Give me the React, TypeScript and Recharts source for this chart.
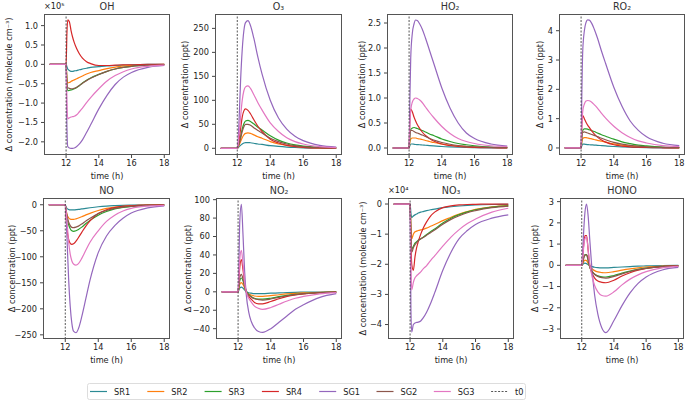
import React from "react";
import { LineChart, Line, XAxis, YAxis, ReferenceLine } from "recharts";

// time grid (h) shared by every panel
const T = [11, 12, 12.05, 12.1, 12.2, 12.3, 12.4, 12.5, 12.65, 12.8, 13, 13.25, 13.5, 14, 14.5, 15, 15.5, 16, 17, 18];

const SERIES = ["SR1", "SR2", "SR3", "SR4", "SG1", "SG2", "SG3"];
const COLORS = ["#2b8a94", "#ff7f0e", "#2ca02c", "#d62728", "#9467bd", "#8c564b", "#e377c2"];

// OH, x1e5 molecule cm-3
const OH = [
  [0, 0, -0.06, -0.12, -0.16, -0.18, -0.18, -0.17, -0.16, -0.14, -0.12, -0.1, -0.08, -0.06, -0.04, -0.03, -0.02, -0.01, 0, 0],
  [0, 0, -0.35, -0.48, -0.47, -0.44, -0.42, -0.4, -0.37, -0.34, -0.3, -0.25, -0.21, -0.16, -0.11, -0.07, -0.04, -0.03, -0.01, 0],
  [0, 0, -0.5, -0.68, -0.67, -0.66, -0.65, -0.63, -0.6, -0.55, -0.48, -0.41, -0.35, -0.26, -0.18, -0.12, -0.08, -0.05, -0.02, -0.01],
  [0, 0, 0.8, 1.15, 1.1, 0.88, 0.7, 0.56, 0.4, 0.28, 0.16, 0.07, 0.02, -0.03, -0.03, -0.02, -0.01, -0.01, 0, 0],
  [0, 0, -1.6, -2.12, -2.16, -2.17, -2.17, -2.16, -2.12, -2.06, -1.95, -1.76, -1.56, -1.15, -0.8, -0.52, -0.33, -0.21, -0.08, -0.03],
  [0, 0, -0.45, -0.6, -0.62, -0.63, -0.63, -0.62, -0.59, -0.55, -0.49, -0.42, -0.36, -0.26, -0.18, -0.12, -0.08, -0.05, -0.02, -0.01],
  [0, 0, -1.0, -1.4, -1.38, -1.36, -1.35, -1.34, -1.3, -1.23, -1.13, -0.99, -0.86, -0.63, -0.43, -0.29, -0.19, -0.12, -0.05, -0.02],
];

// O3, ppt
const O3 = [
  [0, 0, 1, 3, 6, 9, 11, 12, 12, 11.5, 10.5, 9, 8, 5.5, 3.8, 2.5, 1.6, 1, 0.4, 0.2],
  [0, 0, 2, 6, 14, 22, 28, 31, 32, 31, 28, 24, 21, 14, 9, 6, 3.8, 2.5, 1, 0.5],
  [0, 0, 3, 9, 24, 40, 51, 57, 58, 56, 51, 44, 38, 26, 17, 11, 7, 4.5, 2, 1],
  [0, 0, 5, 15, 40, 65, 78, 82, 79, 72, 60, 46, 35, 19, 11, 6, 3.5, 2, 0.8, 0.3],
  [0, 0, 15, 50, 140, 205, 245, 262, 266, 256, 230, 190, 155, 100, 63, 40, 25, 16, 6, 2.5],
  [0, 0, 3, 8, 20, 35, 45, 50, 50, 48, 43, 37, 32, 21, 14, 9, 5.5, 3.5, 1.5, 0.6],
  [0, 0, 7, 25, 65, 100, 120, 128, 130, 125, 112, 95, 80, 53, 35, 22, 14, 9, 3.5, 1.5],
];

// HO2, ppt
const HO2 = [
  [0, 0, 0.05, 0.08, 0.08, 0.075, 0.07, 0.068, 0.065, 0.06, 0.055, 0.048, 0.042, 0.03, 0.022, 0.016, 0.011, 0.008, 0.004, 0.002],
  [0, 0, 0.12, 0.18, 0.2, 0.2, 0.2, 0.19, 0.18, 0.17, 0.15, 0.13, 0.11, 0.08, 0.055, 0.04, 0.028, 0.02, 0.01, 0.005],
  [0, 0, 0.25, 0.37, 0.4, 0.41, 0.4, 0.39, 0.37, 0.35, 0.32, 0.28, 0.25, 0.18, 0.13, 0.09, 0.065, 0.045, 0.02, 0.01],
  [0, 0, 0.6, 0.78, 0.72, 0.62, 0.54, 0.47, 0.39, 0.32, 0.25, 0.19, 0.14, 0.08, 0.05, 0.03, 0.02, 0.012, 0.005, 0.002],
  [0, 0, 1.0, 1.8, 2.3, 2.48, 2.56, 2.55, 2.48, 2.38, 2.2, 1.95, 1.7, 1.2, 0.8, 0.5, 0.3, 0.19, 0.08, 0.04],
  [0, 0, 0.25, 0.35, 0.35, 0.33, 0.31, 0.3, 0.28, 0.26, 0.23, 0.19, 0.16, 0.11, 0.075, 0.05, 0.035, 0.025, 0.012, 0.006],
  [0, 0, 0.5, 0.75, 0.92, 0.98, 1.0, 0.99, 0.96, 0.91, 0.82, 0.71, 0.61, 0.43, 0.29, 0.19, 0.13, 0.09, 0.045, 0.03],
];

// RO2, ppt
const RO2 = [
  [0, 0, 0.08, 0.13, 0.13, 0.12, 0.115, 0.11, 0.105, 0.1, 0.09, 0.08, 0.07, 0.05, 0.035, 0.025, 0.018, 0.013, 0.006, 0.003],
  [0, 0, 0.22, 0.32, 0.35, 0.35, 0.34, 0.33, 0.31, 0.29, 0.26, 0.23, 0.2, 0.14, 0.1, 0.07, 0.05, 0.035, 0.015, 0.008],
  [0, 0, 0.4, 0.6, 0.65, 0.65, 0.64, 0.62, 0.59, 0.56, 0.51, 0.45, 0.4, 0.3, 0.21, 0.15, 0.1, 0.07, 0.03, 0.015],
  [0, 0, 0.85, 1.1, 1.0, 0.88, 0.78, 0.7, 0.58, 0.48, 0.37, 0.27, 0.2, 0.11, 0.065, 0.04, 0.025, 0.015, 0.006, 0.003],
  [0, 0, 2.0, 3.3, 4.0, 4.28, 4.37, 4.36, 4.25, 4.06, 3.75, 3.3, 2.88, 2.07, 1.42, 0.92, 0.6, 0.38, 0.16, 0.08],
  [0, 0, 0.38, 0.53, 0.55, 0.53, 0.51, 0.49, 0.46, 0.43, 0.39, 0.33, 0.28, 0.19, 0.13, 0.09, 0.06, 0.04, 0.018, 0.009],
  [0, 0, 0.8, 1.25, 1.5, 1.6, 1.62, 1.61, 1.56, 1.48, 1.36, 1.18, 1.02, 0.74, 0.52, 0.36, 0.24, 0.17, 0.08, 0.05],
];

// NO, ppt
const NO = [
  [0, 0, -4, -7, -9, -10, -10, -10, -9.5, -9, -8, -6.8, -5.7, -3.8, -2.5, -1.7, -1.1, -0.7, -0.3, -0.1],
  [0, 0, -10, -18, -25, -27.5, -28, -28, -27, -25.5, -23, -19.5, -16.5, -11, -7, -4.5, -3, -2, -0.8, -0.3],
  [0, 0, -12, -24, -38, -46, -50, -51, -50, -47.5, -43, -36, -30, -20, -13, -8, -5, -3.3, -1.3, -0.5],
  [0, 0, -25, -45, -66, -74, -76, -75, -70, -63, -53, -41, -31, -17, -9.5, -5.5, -3.2, -2, -0.7, -0.3],
  [0, 0, -20, -60, -140, -195, -228, -243, -246, -238, -215, -180, -145, -92, -60, -40, -26, -16, -6, -2],
  [0, 0, -10, -20, -33, -40, -43.5, -44, -43, -41, -37, -31, -26, -17, -11, -7, -4.5, -3, -1.2, -0.5],
  [0, 0, -12, -30, -70, -95, -108, -114, -116, -113, -103, -87, -72, -50, -32, -20, -12, -7, -2.5, -1],
];

// NO2, ppt
const NO2 = [
  [0, 0, 2, 4, 5, 4, 2, 0, -1, -1.5, -2, -2, -2, -1.5, -1.2, -0.8, -0.5, -0.4, -0.2, -0.1],
  [0, 0, 4, 8, 10, 8, 4, 0, -2.5, -3.5, -4.5, -5, -5, -4.2, -3.2, -2.3, -1.6, -1.1, -0.5, -0.2],
  [0, 0, 6, 12, 15, 12, 6, 1, -3, -5, -7, -7.8, -8, -7, -5.3, -3.8, -2.7, -1.9, -0.9, -0.4],
  [0, 0, 12, 26, 35, 24, 9, 0, -5, -8, -11.5, -13, -13, -10.5, -7.5, -5, -3.4, -2.3, -1, -0.4],
  [0, 0, 30, 75, 95, 62, 22, -3, -22, -32, -39, -43, -44, -40, -33, -26, -19, -14, -6, -2],
  [0, 0, 7, 15, 19, 14, 6, 0, -3.5, -5.5, -7.5, -8.5, -9, -7.8, -6, -4.3, -3, -2.1, -1, -0.4],
  [0, 0, 15, 35, 45, 30, 10, 0, -7, -11, -15.5, -18, -19, -17, -13.5, -10, -7, -5, -2.2, -0.9],
];

// NO3, x1e4 molecule cm-3
const NO3 = [
  [0, 0, -0.3, -0.45, -0.4, -0.36, -0.33, -0.3, -0.27, -0.25, -0.22, -0.19, -0.17, -0.12, -0.09, -0.065, -0.045, -0.03, -0.015, -0.01],
  [0, 0, -0.8, -1.15, -1.0, -0.92, -0.9, -0.88, -0.86, -0.84, -0.8, -0.74, -0.68, -0.55, -0.44, -0.33, -0.25, -0.18, -0.09, -0.05],
  [0, 0, -1.0, -1.5, -1.4, -1.3, -1.25, -1.2, -1.15, -1.1, -1.02, -0.92, -0.83, -0.63, -0.47, -0.35, -0.26, -0.19, -0.1, -0.06],
  [0, 0, -1.2, -2.0, -2.2, -1.75, -1.45, -1.25, -1.0, -0.8, -0.6, -0.4, -0.27, -0.12, -0.06, -0.03, -0.015, -0.01, 0, 0],
  [0, 0, -3.5, -4.25, -4.0, -3.95, -3.93, -3.92, -3.88, -3.78, -3.6, -3.3, -2.95, -2.2, -1.6, -1.15, -0.88, -0.68, -0.47, -0.36],
  [0, 0, -1.1, -1.6, -1.45, -1.35, -1.28, -1.22, -1.16, -1.11, -1.04, -0.95, -0.86, -0.67, -0.51, -0.39, -0.29, -0.22, -0.12, -0.07],
  [0, 0, -2.0, -2.85, -2.6, -2.45, -2.38, -2.33, -2.25, -2.15, -2.05, -1.88, -1.72, -1.4, -1.1, -0.85, -0.65, -0.5, -0.27, -0.14],
];

// HONO, ppt
const HONO = [
  [0, 0, 0.03, 0.07, 0.1, 0.08, 0.03, -0.02, -0.06, -0.09, -0.11, -0.12, -0.12, -0.1, -0.08, -0.06, -0.04, -0.03, -0.01, -0.005],
  [0, 0, 0.06, 0.15, 0.24, 0.22, 0.1, -0.05, -0.17, -0.25, -0.31, -0.34, -0.35, -0.3, -0.23, -0.17, -0.12, -0.08, -0.04, -0.02],
  [0, 0, 0.12, 0.3, 0.5, 0.5, 0.22, -0.1, -0.3, -0.42, -0.5, -0.54, -0.55, -0.48, -0.37, -0.27, -0.19, -0.13, -0.06, -0.03],
  [0, 0, 0.3, 0.8, 1.4, 1.4, 0.7, 0.0, -0.4, -0.6, -0.74, -0.8, -0.82, -0.7, -0.5, -0.35, -0.23, -0.15, -0.06, -0.03],
  [0, 0, 0.5, 1.3, 2.5, 2.88, 2.3, 1.2, -0.3, -1.4, -2.3, -2.95, -3.17, -2.6, -1.9, -1.3, -0.85, -0.55, -0.22, -0.1],
  [0, 0, 0.1, 0.27, 0.47, 0.5, 0.25, -0.08, -0.3, -0.42, -0.52, -0.58, -0.6, -0.52, -0.4, -0.29, -0.2, -0.14, -0.06, -0.03],
  [0, 0, 0.25, 0.7, 1.25, 1.35, 0.7, 0.05, -0.55, -0.95, -1.25, -1.42, -1.45, -1.25, -0.92, -0.65, -0.45, -0.3, -0.12, -0.05],
];

const X_TICKS = [12, 14, 16, 18];
const PPT = "\u0394 concentration (ppt)";
const MOLEC = "\u0394 concentration (molecule cm\u207B\u00B3)";
const FONT = "DejaVu Sans";
const FS = 8.2;

const panels = [
  { title: "OH", data: OH, x: 44, y: 14, w: 126, h: 141, domain: [-2.34, 1.3], ticks: [-2, -1.5, -1, -0.5, 0, 0.5, 1], dec: 1, ylabel: MOLEC, lx: 9, offset: "\u00D710\u2075" },
  { title: "O\u2083", data: O3, x: 215, y: 14, w: 127, h: 141, domain: [-14, 280], ticks: [0, 50, 100, 150, 200, 250], dec: 0, ylabel: PPT, lx: 185 },
  { title: "HO\u2082", data: HO2, x: 387, y: 14, w: 126, h: 141, domain: [-0.14, 2.68], ticks: [0, 0.5, 1, 1.5, 2, 2.5], dec: 1, ylabel: PPT, lx: 362 },
  { title: "RO\u2082", data: RO2, x: 559, y: 14, w: 126, h: 141, domain: [-0.24, 4.57], ticks: [0, 1, 2, 3, 4], dec: 0, ylabel: PPT, lx: 540 },
  { title: "NO", data: NO, x: 43, y: 198, w: 127, h: 141, domain: [-258, 13], ticks: [-250, -200, -150, -100, -50, 0], dec: 0, ylabel: PPT, lx: 12 },
  { title: "NO\u2082", data: NO2, x: 216, y: 198, w: 126, h: 141, domain: [-51.2, 101.8], ticks: [-40, -20, 0, 20, 40, 60, 80, 100], dec: 0, ylabel: PPT, lx: 188 },
  { title: "NO\u2083", data: NO3, x: 388, y: 198, w: 126, h: 141, domain: [-4.48, 0.2], ticks: [-4, -3, -2, -1, 0], dec: 0, ylabel: MOLEC, lx: 363, offset: "\u00D710\u2074" },
  { title: "HONO", data: HONO, x: 560, y: 198, w: 124, h: 141, domain: [-3.47, 3.17], ticks: [-3, -2, -1, 0, 1, 2, 3], dec: 0, ylabel: PPT, lx: 535 },
];

const fmt = (dec: number) => (v: number) => v.toFixed(dec).replace("-", "\u2212");

const L = 44;
const TOP = 4;
const R = 4;
const B = 24;

function Panel({ p }: { p: any }) {
  const rows = T.map((t, i) => {
    const row: any = { t };
    SERIES.forEach((s, k) => (row[s] = p.data[k][i]));
    return row;
  });
  const tickStyle = { fontSize: FS, fill: "#222", fontFamily: FONT };
  return (
    <>
      <div style={{ position: "absolute", left: p.x - L, top: p.y - TOP }}>
        <LineChart width={p.w + L + R} height={p.h + TOP + B} data={rows} margin={{ top: TOP, right: R, left: 0, bottom: 0 }}>
          <XAxis
            dataKey="t"
            type="number"
            domain={[10.65, 18.35]}
            ticks={X_TICKS}
            height={B}
            axisLine={false}
            tickSize={3}
            tickMargin={2}
            tickLine={{ stroke: "#444" }}
            tick={tickStyle}
            allowDataOverflow
          />
          <YAxis
            type="number"
            width={L}
            domain={p.domain}
            ticks={p.ticks}
            tickFormatter={fmt(p.dec)}
            axisLine={false}
            tickSize={3}
            tickMargin={3}
            tickLine={{ stroke: "#444" }}
            tick={tickStyle}
            allowDataOverflow
          />
          {SERIES.map((s, k) => (
            <Line key={s} dataKey={s} type="monotone" stroke={COLORS[k]} strokeWidth={1.2} dot={false} isAnimationActive={false} />
          ))}
          <ReferenceLine x={12} stroke="#444" strokeWidth={0.9} strokeDasharray="2 1.5" />
        </LineChart>
      </div>
      <div style={{ position: "absolute", left: p.x, top: p.y, width: p.w, height: p.h, border: "1px solid #555", boxSizing: "border-box", pointerEvents: "none" }} />
    </>
  );
}

const LEGEND = [...SERIES, "t0"];

export default function App() {
  return (
    <div style={{ position: "absolute", left: 0, top: 0, width: 689, height: 403, background: "#fff", fontFamily: FONT, overflow: "hidden" }}>
      {panels.map((p) => (
        <Panel key={p.title} p={p} />
      ))}
      <svg width={689} height={403} style={{ position: "absolute", left: 0, top: 0, pointerEvents: "none" }} fontFamily={FONT}>
        {panels.map((p) => (
          <g key={p.title}>
            <text x={p.x + p.w / 2} y={p.y - 4} textAnchor="middle" fontSize={9.6} fontWeight="normal" fill="#333">{p.title}</text>
            <text x={p.x + p.w / 2} y={p.y + p.h + 24} textAnchor="middle" fontSize={FS} fill="#222">time (h)</text>
            <text
              x={p.lx}
              y={p.y + p.h / 2}
              textAnchor="middle"
              dominantBaseline="central"
              fontSize={FS}
              fill="#222"
              transform={`rotate(-90 ${p.lx} ${p.y + p.h / 2})`}
            >
              {p.ylabel}
            </text>
            {p.offset && (
              <text x={p.x} y={p.y - 5} fontSize={FS} fill="#222">{p.offset}</text>
            )}
          </g>
        ))}
        <rect x={87.5} y={383.5} width={438} height={16} rx={2} fill="#fff" stroke="#ddd" strokeWidth={1} />
        {LEGEND.map((s, i) => {
          const lx = 90 + i * 57.3;
          return (
            <g key={s}>
              <line
                x1={lx}
                x2={lx + 17}
                y1={391.5}
                y2={391.5}
                stroke={i < 7 ? COLORS[i] : "#444"}
                strokeWidth={i < 7 ? 1.2 : 0.9}
                strokeDasharray={i < 7 ? undefined : "2 1.5"}
              />
              <text x={lx + 24} y={391.5} dominantBaseline="central" fontSize={FS} fill="#222">{s}</text>
            </g>
          );
        })}
      </svg>
    </div>
  );
}
